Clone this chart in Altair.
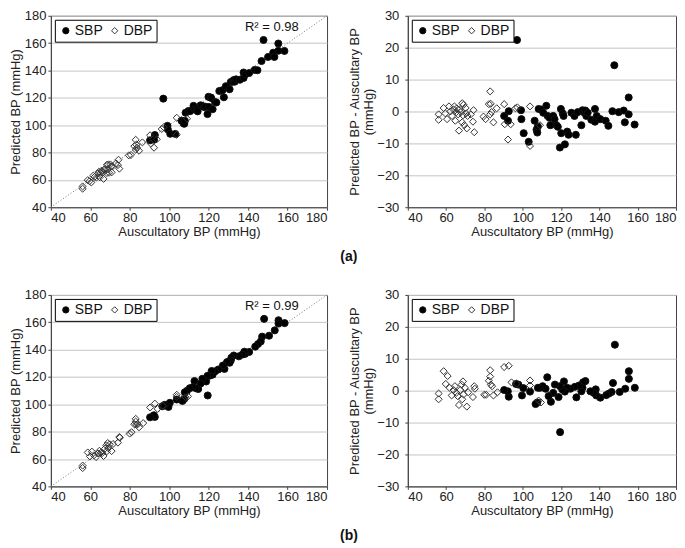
import altair as alt
import pandas as pd

FONT = "Liberation Sans"

# ---------------- Panel (a) ----------------
a_sbp_x = [97.0, 147.8, 90.3, 92.7, 92.3, 99.1, 99.3, 100.5, 103.1, 106.2, 107.2, 107.6, 107.9, 108.3,
           109.7, 110.7, 112.3, 113.0, 114.0, 114.4, 115.9, 116.6, 117.6, 118.3, 119.4, 119.9, 120.1,
           120.9, 121.3, 122.0, 123.2, 123.9, 125.4, 127.0, 127.7, 128.7, 130.6, 131.2, 132.2, 132.7,
           133.2, 133.9, 135.8, 137.7, 137.7, 138.6, 140.5, 143.3, 144.7, 146.8, 150.1, 152.7, 153.3,
           155.3, 155.3, 158.4]
a_sbp_d = [22.4, 14.5, -1.4, 0.1, -2.9, 0.4, -2.4, -6.8, -9.5, -2.9, -5.7, -6.6, -4.7, 0.8,
           0.6, -0.4, 1.8, -1.4, -2.0, -4.3, -1.4, -2.4, -4.3, -4.8, -11.3, 0.8, -6.8,
           -0.6, -1.4, -10.3, -6.3, -7.3, -0.4, -1.4, -7.3, -0.2, -4.3, 0.4, -0.4, 0.3,
           -1.4, -0.4, -2.6, 0.8, -3.2, -1.4, -2.4, -2.9, -4.5, 0.1, -0.2, 0.3, -3.4,
           4.4, -0.9, -4.1]
a_dbp_x = [56.1, 56.1, 58.7, 59.6, 60.5, 61.5, 62.2, 63.1, 63.9, 64.3, 64.8, 65.3, 65.6, 66.3,
           66.7, 67.0, 67.7, 68.4, 68.4, 68.8, 69.1, 69.5, 70.2, 70.5, 70.8, 71.2, 72.9, 74.0,
           74.3, 74.7, 79.5, 80.6, 82.3, 83.0, 83.0, 83.3, 83.7, 84.7, 86.4, 90.3, 90.6, 92.3,
           93.7, 96.2, 97.2, 103.8, 103.8, 109.0]
a_dbp_d = [-0.9, -2.6, 1.1, -0.6, -2.4, 1.6, 0.0, -1.4, 0.6, 1.6, -2.9, -0.2, 1.0, -0.9,
           -6.0, 0.6, -0.2, 2.6, -3.4, -1.2, 2.1, -4.3, 1.1, -0.6, -5.3, -1.4, -0.9, -3.2,
           0.4, -6.5, -1.6, -2.4, 2.3, 6.3, -0.9, 2.4, -0.2, -3.4, 1.0, 2.3, -4.0, -8.8,
           -4.0, 1.0, 1.3, 1.6, -10.8, -4.3]
a_r2 = "R² = 0.98"

# ---------------- Panel (b) ----------------
b_sbp_x = [148.1, 119.5, 155.4, 155.4, 158.5, 153.5, 150.6, 147.1, 146.4, 145.0, 143.6, 140.5,
           138.4, 138.1, 137.1, 135.3, 132.7, 131.5, 131.2, 130.6, 129.3, 128.0, 127.2, 124.9,
           123.2, 122.0, 121.5, 120.6, 119.4, 118.7, 116.8, 115.9, 114.7, 113.5, 112.8, 111.9,
           110.4, 109.0, 107.9, 107.6, 106.7, 103.8, 100.3, 99.6, 97.7, 96.5, 92.7, 92.2, 90.3]
b_sbp_d = [14.4, -13.0, 6.1, 3.7, 0.9, 0.6, -0.4, 2.4, -0.4, -0.9, -1.4, -2.2,
           -1.5, 0.4, -0.7, -0.2, 3.0, 2.6, 0.9, -0.2, 1.6, -2.1, 1.2, 0.6,
           0.9, -0.3, 2.9, 0.4, 1.4, -2.0, 1.9, -0.7, -3.5, -1.7, 4.2, 0.6,
           1.4, 0.9, 0.9, -3.7, -4.2, -0.3, 0.8, -1.5, 1.9, 2.1, -1.9, -0.2, 0.2]
b_dbp_x = [56.1, 56.1, 58.7, 59.8, 60.8, 61.8, 62.9, 63.9, 64.6, 65.3, 66.0, 66.7, 67.4, 68.1,
           68.4, 68.8, 69.1, 69.8, 70.8, 71.5, 74.0, 74.7, 75.0, 79.9, 80.9, 82.3, 83.0, 83.0,
           83.3, 84.0, 84.7, 86.8, 90.3, 92.7, 94.1, 96.8, 103.8, 103.8, 108.3, 109.5]
b_dbp_d = [-0.9, -2.7, 6.1, 2.1, 4.6, 0.9, -1.5, 0.2, 1.4, -0.7, -1.7, -4.5, 0.2, 1.9,
           -2.7, 2.9, -1.2, 0.9, -5.0, -0.5, -2.0, 1.4, 0.6, -1.3, -1.3, 3.1, 6.4, 4.4,
           1.9, 1.4, -1.5, -0.5, 7.4, 7.8, 2.6, 2.2, 3.2, 1.6, -3.1, -3.7]
b_r2 = "R² = 0.99"

# identity line and annotation anchor
diag_vals = [40, 180]
r2_pos = (152, 172)

x_ticks = [40, 60, 80, 100, 120, 140, 160, 180]
y_ticks_left = [40, 60, 80, 100, 120, 140, 160, 180]
y_ticks_right = [-30, -20, -10, 0, 10, 20, 30]

X_TITLE = "Auscultatory BP (mmHg)"
YL_TITLE = "Predicted BP (mmHg)"
YR_TITLE = ["Predicted BP - Auscultary BP", "(mmHg)"]

LW, RW, H = 277, 269, 192


def make_df(sx, sd, dx, dd):
    rows = [{"x": x, "d": d, "type": "SBP", "o": 0} for x, d in zip(sx, sd)]
    rows += [{"x": x, "d": d, "type": "DBP", "o": 1} for x, d in zip(dx, dd)]
    return pd.DataFrame(rows)


CATS = ["SBP", "DBP"]
shape_scale = alt.Scale(domain=CATS, range=["circle", "diamond"])
fill_scale = alt.Scale(domain=CATS, range=["#000000", "transparent"])
stroke_scale = alt.Scale(domain=CATS, range=["#111111", "#333333"])

legend = alt.Legend(title=None, orient="top-left", direction="horizontal", offset=4,
                    strokeColor="#000000", fillColor="#ffffff", padding=4,
                    labelFont=FONT, labelFontSize=14, labelColor="#111111",
                    symbolSize=40, symbolStrokeWidth=1,
                    columnPadding=4, labelOffset=2, cornerRadius=0)

xaxis = alt.Axis(values=x_ticks, grid=False, title=X_TITLE, tickSize=3, labelPadding=1, titlePadding=1)
xscale = alt.Scale(domain=[40, 180], nice=False, zero=False)


def point_enc(ycol, yscale, yaxis):
    return dict(
        x=alt.X("x:Q", scale=xscale, axis=xaxis),
        y=alt.Y(ycol, scale=yscale, axis=yaxis),
        shape=alt.Shape("type:N", scale=shape_scale, legend=legend),
        fill=alt.Fill("type:N", scale=fill_scale, legend=legend),
        stroke=alt.Stroke("type:N", scale=stroke_scale, legend=legend),
        order=alt.Order("o:Q"),
    )


def left_panel(df, r2):
    yaxis = alt.Axis(values=y_ticks_left, grid=True, title=YL_TITLE, tickSize=3, titlePadding=2)
    yscale = alt.Scale(domain=[40, 180], nice=False, zero=False)
    diag = alt.Chart(pd.DataFrame({"x": diag_vals, "p": diag_vals})).mark_line(
        color="#777777", strokeWidth=1, strokeDash=[1, 2]
    ).encode(x=alt.X("x:Q", scale=xscale, axis=xaxis), y=alt.Y("p:Q", scale=yscale, axis=yaxis))
    pts = alt.Chart(df).transform_calculate(p="datum.x + datum.d").mark_point(
        filled=True, strokeWidth=1, opacity=1, size=50
    ).encode(**point_enc("p:Q", yscale, yaxis))
    txt = alt.Chart(pd.DataFrame({"x": [r2_pos[0]], "p": [r2_pos[1]], "t": [r2]})).mark_text(
        font=FONT, fontSize=13, color="#111111"
    ).encode(x=alt.X("x:Q", scale=xscale, axis=xaxis), y=alt.Y("p:Q", scale=yscale, axis=yaxis), text="t:N")
    return alt.layer(diag, pts, txt).properties(width=LW, height=H)


def right_panel(df):
    yaxis = alt.Axis(values=y_ticks_right, grid=True, title=YR_TITLE, tickSize=3, labelPadding=6,
                     titlePadding=1, titleLineHeight=14)
    yscale = alt.Scale(domain=[-30, 30], nice=False, zero=False)
    pts = alt.Chart(df).mark_point(
        filled=True, strokeWidth=1, opacity=1, size=50
    ).encode(**point_enc("d:Q", yscale, yaxis))
    return pts.properties(width=RW, height=H)


df_a = make_df(a_sbp_x, a_sbp_d, a_dbp_x, a_dbp_d)
df_b = make_df(b_sbp_x, b_sbp_d, b_dbp_x, b_dbp_d)


def row(df, r2, label):
    return alt.hconcat(left_panel(df, r2), right_panel(df), spacing=18).resolve_scale(
        shape="independent", fill="independent", stroke="independent").properties(
        title=alt.TitleParams(label, orient="bottom", anchor="middle", font=FONT, fontSize=14,
                              fontWeight="bold", color="#111111", offset=11, dx=6))


chart = alt.vconcat(row(df_a, a_r2, "(a)"), row(df_b, b_r2, "(b)"), spacing=24).properties(
    padding=0
).configure_view(stroke="#444444", strokeWidth=1).configure_axis(
    labelFont=FONT, titleFont=FONT, labelFontSize=13, titleFontSize=13, titleFontWeight="normal",
    labelColor="#222222", titleColor="#222222", domainColor="#444444", tickColor="#444444",
    gridColor="#c4c4c4", gridWidth=1
)

chart.save("out.html", embed_options={"renderer": "svg", "actions": False})
